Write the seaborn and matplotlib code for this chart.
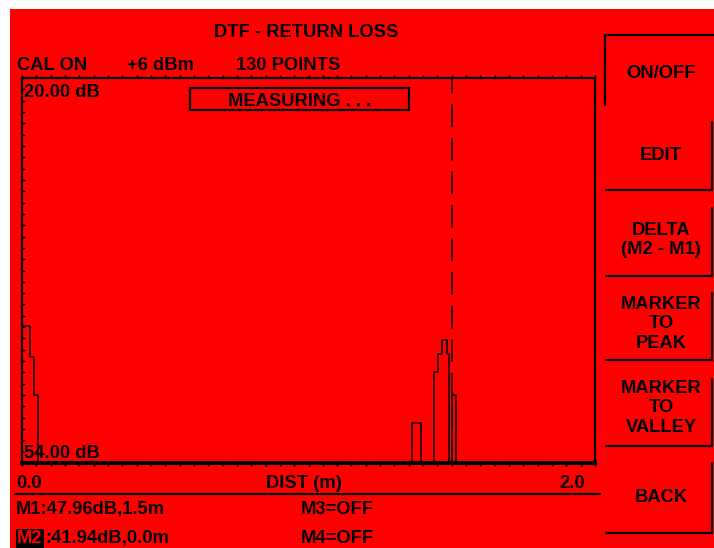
import matplotlib
matplotlib.use('Agg')
import matplotlib.pyplot as plt
from matplotlib.patches import Rectangle
from matplotlib.lines import Line2D
from matplotlib.ticker import MultipleLocator
import seaborn as sns

# DTF trace: distance (m) vs return loss (dB), stepped
dist_m = [0.0, 0.028, 0.042, 0.057, 1.362, 1.392, 1.438, 1.452, 1.467, 1.482, 1.490, 1.500, 1.515, 2.0]
rl_db = [41.94, 44.6, 48.0, 54.0, 50.45, 54.0, 46.0, 44.4, 43.1, 44.4, 54.0, 47.96, 54.0, 54.0]

marker_dist = 1.5
db_top, db_bottom = 20.0, 54.0
dist_min, dist_max = 0.0, 2.0

title = "DTF - RETURN LOSS"
status_labels = ["CAL ON", "+6 dBm", "130 POINTS"]
scale_labels = ["20.00 dB", "54.00 dB"]
axis_labels = ["0.0", "DIST (m)", "2.0"]
marker_labels = ["M1:47.96dB,1.5m", "M2", ":41.94dB,0.0m", "M3=OFF", "M4=OFF"]
button_labels = ["ON/OFF", "EDIT", "DELTA\n(M2 - M1)", "MARKER\nTO\nPEAK", "MARKER\nTO\nVALLEY", "BACK"]

RED = '#ff0000'
W, H = 714, 548

sns.set_theme(style='white')
plt.rcParams['font.family'] = ['Liberation Sans', 'DejaVu Sans']
plt.rcParams['text.color'] = 'black'
FS = 13.2
FW = 'bold'


def fx(x):
    return x / W


def fy(y):
    return 1 - y / H


def label(x, y, s, **kw):
    kw.setdefault('ha', 'left')
    kw.setdefault('va', 'baseline')
    return fig.text(fx(x), fy(y), s, fontsize=FS, fontweight=FW, **kw)


fig = plt.figure(figsize=(W / 100, H / 100), dpi=100, facecolor='white')
fig.patches.append(Rectangle((fx(10), 0), 1 - fx(10), fy(9), transform=fig.transFigure,
                             facecolor=RED, edgecolor='none', zorder=-10))

# plot area
ax = fig.add_axes([fx(22), fy(463), fx(595) - fx(22), fy(78) - fy(463)])
ax.set_facecolor(RED)
sns.lineplot(x=dist_m, y=rl_db, drawstyle='steps-post', color='black', lw=1.1,
             estimator=None, sort=False, ax=ax)
ax.axvline(marker_dist, color='black', lw=1.1, ls=(0, (15, 7)))
ax.set_xlim(dist_min, dist_max)
ax.set_ylim(db_bottom, db_top)
ax.set_xticks([])
ax.set_yticks([])
ax.xaxis.set_minor_locator(MultipleLocator(0.05))
ax.yaxis.set_minor_locator(MultipleLocator(1))
ax.tick_params(which='minor', bottom=True, top=True, left=True, length=2.5, width=1, color='black')
ax.tick_params(axis='x', which='minor', direction='out')
ax.tick_params(axis='y', which='minor', direction='in')
for side, lw in {'left': 1.6, 'top': 1.6, 'right': 1.6, 'bottom': 3.0}.items():
    ax.spines[side].set_color('black')
    ax.spines[side].set_linewidth(lw)
    ax.spines[side].set_visible(True)

# header
label(306, 37, title, ha='center')
for lbl, x in zip(status_labels, [17, 127, 236]):
    label(x, 70, lbl)

label(24, 97, scale_labels[0])
label(24, 458, scale_labels[1])

# measuring box
fig.patches.append(Rectangle((fx(190), fy(110)), fx(409) - fx(190), fy(88) - fy(110),
                             transform=fig.transFigure, fill=False, edgecolor='black', lw=1.6))
label(300, 106, "MEASURING . . .", ha='center')

# x axis labels
label(16, 488, axis_labels[0])
label(304, 488, axis_labels[1], ha='center')
label(585, 488, axis_labels[2], ha='right')
fig.lines.append(Line2D([fx(15), fx(600)], [fy(494), fy(494)], transform=fig.transFigure,
                        color='black', lw=1.6))

# marker readouts
label(16, 514, marker_labels[0])
label(17, 543, marker_labels[1], color=RED,
      bbox=dict(facecolor='black', edgecolor='none', pad=0.6))
label(45, 543, marker_labels[2])
label(301, 514, marker_labels[3])
label(301, 543, marker_labels[4])

# soft keys on the right
button_y = [73, 155, 240, 324, 408, 497]
for lbl, y in zip(button_labels, button_y):
    label(661, y, lbl, ha='center', va='center', linespacing=1.2)

frames = [
    [(605, 105), (605, 35), (714, 35)],
    [(606, 190), (712, 190), (712, 122)],
    [(606, 276), (712, 276), (712, 208)],
    [(606, 360), (712, 360), (712, 293)],
    [(606, 446), (712, 446), (712, 379)],
    [(606, 533), (712, 533), (712, 463)],
]
for pts in frames:
    xs = [fx(p[0]) for p in pts]
    ys = [fy(p[1]) for p in pts]
    fig.lines.append(Line2D(xs, ys, transform=fig.transFigure, color='black', lw=1.6))

fig.savefig('out.png', dpi=100, facecolor='white')
